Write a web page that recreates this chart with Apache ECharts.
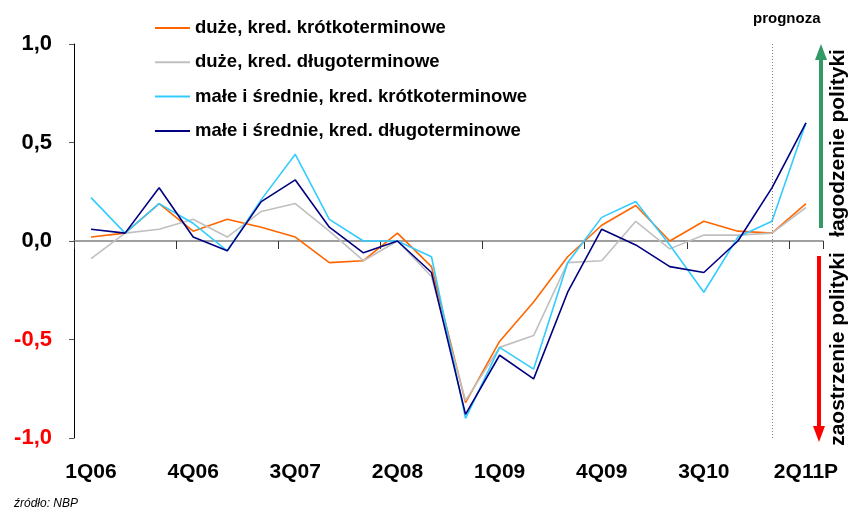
<!DOCTYPE html>
<html>
<head>
<meta charset="utf-8">
<script src="https://cdn.jsdelivr.net/npm/echarts@6/dist/echarts.min.js"></script>
<style>
html,body{margin:0;padding:0;background:#fff;}
#chart{width:852px;height:513px;}
</style>
</head>
<body>
<div id="chart"></div>
<script>
// kwartały
var quarters = ['1Q06','2Q06','3Q06','4Q06','1Q07','2Q07','3Q07','4Q07','1Q08','2Q08','3Q08','4Q08',
                '1Q09','2Q09','3Q09','4Q09','1Q10','2Q10','3Q10','4Q10','1Q11','2Q11P'];

// duże przedsiębiorstwa
var bigShort = [0.02, 0.04, 0.19, 0.05, 0.11, 0.07, 0.02, -0.11, -0.10, 0.04, -0.13, -0.82,
                -0.51, -0.31, -0.08, 0.08, 0.18, 0.00, 0.10, 0.05, 0.04, 0.19];
var bigLong  = [-0.09, 0.04, 0.06, 0.11, 0.02, 0.15, 0.19, 0.05, -0.10, 0.00, -0.18, -0.81,
                -0.54, -0.48, -0.11, -0.10, 0.10, -0.04, 0.03, 0.03, 0.04, 0.17];
// małe i średnie
var smeShort = [0.22, 0.04, 0.19, 0.09, -0.05, 0.21, 0.44, 0.11, 0.00, 0.00, -0.08, -0.90,
                -0.54, -0.65, -0.11, 0.12, 0.20, -0.02, -0.26, 0.02, 0.10, 0.60];
var smeLong  = [0.06, 0.04, 0.27, 0.02, -0.05, 0.20, 0.31, 0.07, -0.06, 0.00, -0.16, -0.88,
                -0.58, -0.70, -0.26, 0.06, -0.02, -0.13, -0.16, 0.00, 0.27, 0.60];

var forecastFrom = '1Q11';

var seriesNames = ['duże, kred. krótkoterminowe', 'duże, kred. długoterminowe',
                   'małe i średnie, kred. krótkoterminowe', 'małe i średnie, kred. długoterminowe'];
var seriesColors = ['#FF6600', '#C0C0C0', '#33CCFF', '#000080'];
var seriesData = [bigShort, bigLong, smeShort, smeLong];

var chart = echarts.init(document.getElementById('chart'));

var series = seriesData.map(function(d, i)
{
	return {
		name: seriesNames[i],
		type: 'line',
		data: d,
		symbol: 'none',
		z: 2 + i,
		lineStyle: {color: seriesColors[i], width: 1.6},
		itemStyle: {color: seriesColors[i]}
	};
});

// linia prognozy
series[0].markLine = {
	silent: true,
	symbol: 'none',
	label: {show: false},
	lineStyle: {color: '#808080', type: [1, 2], width: 1},
	data: [{xAxis: forecastFrom}]
};

var option = {
	animation: false,
	backgroundColor: '#fff',
	textStyle: {fontFamily: 'Arial, "Liberation Sans", sans-serif'},
	grid: {left: 74, right: 29, top: 44, bottom: 75},
	legend: {
		orient: 'vertical',
		left: 155,
		top: 18,
		padding: 0,
		itemWidth: 35,
		itemHeight: 2,
		itemGap: 14.3,
		icon: 'rect',
		textStyle: {fontSize: 18.5, fontWeight: 'bold', color: '#000', lineHeight: 20},
		data: seriesNames
	},
	xAxis: [
		{
			type: 'category',
			data: quarters,
			boundaryGap: true,
			axisLine: {onZero: true, lineStyle: {color: '#808080', width: 1.5}},
			axisTick: {show: true, interval: 2, length: 8, lineStyle: {color: '#333'}},
			axisLabel: {show: false},
			splitLine: {show: false}
		},
		{
			type: 'category',
			data: quarters,
			position: 'bottom',
			boundaryGap: true,
			axisLine: {show: false, onZero: false},
			axisTick: {show: false},
			axisLabel: {
				interval: 2,
				margin: 24,
				fontSize: 21,
				fontWeight: 'bold',
				color: '#000'
			}
		}
	],
	yAxis: {
		type: 'value',
		min: -1,
		max: 1,
		interval: 0.5,
		axisLine: {show: true, lineStyle: {color: '#000', width: 1}},
		axisTick: {show: true, length: 5, lineStyle: {color: '#555'}},
		splitLine: {show: false},
		axisLabel: {
			margin: 22,
			fontSize: 22,
			fontWeight: 'bold',
			formatter: function(v)
			{
				return Number(v).toFixed(1).replace('.', ',');
			},
			color: function(v)
			{
				return parseFloat(v) < 0 ? '#FF0000' : '#000';
			}
		}
	},
	series: series,
	graphic: [
		{
			type: 'text', left: 753, top: 11,
			style: {text: 'prognoza', font: 'bold 15px Arial, sans-serif', fill: '#000'}
		},
		// łagodzenie - strzałka w górę
		{type: 'line', shape: {x1: 821, y1: 228, x2: 821, y2: 58}, style: {stroke: '#339966', lineWidth: 4}},
		{type: 'polygon', shape: {points: [[815, 60], [827, 60], [821, 44]]}, style: {fill: '#339966'}},
		// zaostrzenie - strzałka w dół
		{type: 'line', shape: {x1: 819, y1: 256, x2: 819, y2: 428}, style: {stroke: '#FF0000', lineWidth: 4}},
		{type: 'polygon', shape: {points: [[813, 426], [825, 426], [819, 442]]}, style: {fill: '#FF0000'}},
		{
			type: 'text', x: 838, y: 143, rotation: Math.PI / 2,
			style: {text: 'łagodzenie polityki', font: 'bold 21px Arial, sans-serif', fill: '#000',
			        align: 'center', verticalAlign: 'middle'}
		},
		{
			type: 'text', x: 838, y: 349, rotation: Math.PI / 2,
			style: {text: 'zaostrzenie polityki', font: 'bold 21px Arial, sans-serif', fill: '#000',
			        align: 'center', verticalAlign: 'middle'}
		},
		{
			type: 'text', left: 14, top: 498,
			style: {text: 'źródło: NBP', font: 'italic 12px Arial, sans-serif', fill: '#000'}
		}
	]
};

chart.setOption(option);
</script>
</body>
</html>
